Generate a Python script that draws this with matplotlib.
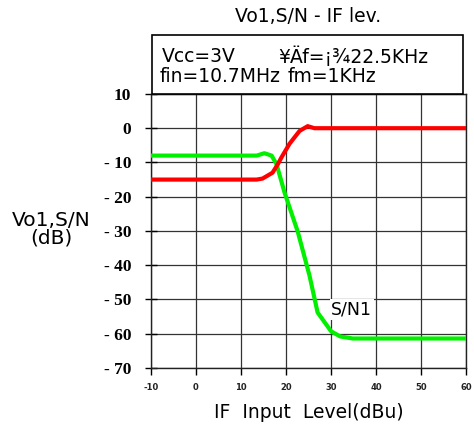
import matplotlib
matplotlib.use("Agg")
import matplotlib.pyplot as plt
from matplotlib.patches import Rectangle

# ---------------------------------------------------------------------------
# Data
# ---------------------------------------------------------------------------
x_ticks = [-10, 0, 10, 20, 30, 40, 50, 60]
y_ticks = [10, 0, -10, -20, -30, -40, -50, -60, -70]

sn_x = [-10, 13.5, 15.2, 16.8, 17.9, 19.7, 22.6, 25.2, 27.0, 30.0, 32.0, 34.8, 60]
sn_y = [-8, -8, -7.3, -8.0, -10.5, -18.9, -30.2, -43.0, -53.8, -59.3, -60.8, -61.4, -61.4]

vo_x = [-10, 13.5, 14.8, 17.0, 18.1, 19.0, 20.8, 23.0, 24.8, 26.3, 60]
vo_y = [-15, -15, -14.7, -13.0, -10.7, -8.5, -4.5, -0.8, 0.6, 0.0, 0.0]

# ---------------------------------------------------------------------------
# Figure layout
# ---------------------------------------------------------------------------
fig = plt.figure(figsize=(4.74, 4.37), dpi=100)
ax = fig.add_axes([0.318, 0.158, 0.666, 0.627])

ax.plot(sn_x, sn_y, color="#00f000", lw=3.0, zorder=3, solid_joinstyle="round")
ax.plot(vo_x, vo_y, color="#ff0000", lw=3.0, zorder=3, solid_joinstyle="round")

ax.set_xlim(-10, 60)
ax.set_ylim(-70, 10)
ax.set_xticks(x_ticks)
ax.set_yticks(y_ticks)
ax.set_yticklabels([str(v).replace("-", "- ") for v in y_ticks],
                   family="Liberation Serif", fontweight="bold", fontsize=12.5)
ax.set_xticklabels([str(v) for v in x_ticks],
                   family="DejaVu Sans", fontweight="bold", fontsize=6, color="#222222")
ax.tick_params(axis="y", direction="inout", length=8, width=1, pad=10)
ax.tick_params(axis="x", direction="out", length=5, width=1, pad=6)
ax.grid(True, color="#333333", lw=0.9)
for s in ax.spines.values():
    s.set_color("#222222")
    s.set_linewidth(1.0)

ax.text(34.6, -53, "S/N1", family="DejaVu Sans", fontsize=12.5,
        ha="center", va="center", zorder=4,
        bbox=dict(facecolor="white", edgecolor="none", pad=1))

# header box with conditions
fig.patches.append(Rectangle((0.321, 0.785), 0.656, 0.135, transform=fig.transFigure,
                             facecolor="white", edgecolor="black", lw=1.2))
tkw = dict(family="DejaVu Sans", fontsize=13.5, va="center", ha="left")
fig.text(162 / 474, 1 - 57 / 437, "Vcc=3V", **tkw)
fig.text(160 / 474, 1 - 76 / 437, "fin=10.7MHz", **tkw)
fig.text(278 / 474, 1 - 57 / 437, "¥Äf=¡¾22.5KHz", **tkw)
fig.text(288 / 474, 1 - 76 / 437, "fm=1KHz", **tkw)

fig.text(308 / 474, 1 - 17 / 437, "Vo1,S/N - IF lev.", family="DejaVu Sans",
         fontsize=13.5, ha="center", va="center")
fig.text(309 / 474, 1 - 412 / 437, "IF  Input  Level(dBu)", family="DejaVu Sans",
         fontsize=13.5, ha="center", va="center")
fig.text(51 / 474, 1 - 229 / 437, "Vo1,S/N\n(dB)", family="DejaVu Sans",
         fontsize=14.5, ha="center", va="center", linespacing=0.88)

fig.savefig("out.png", dpi=100)
